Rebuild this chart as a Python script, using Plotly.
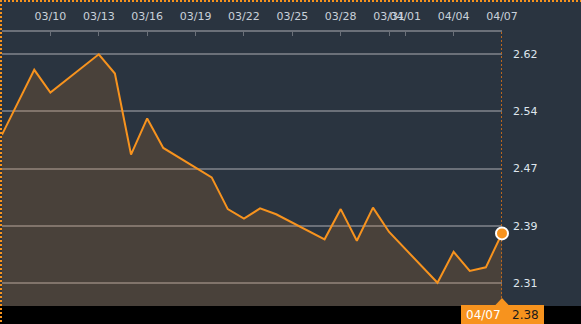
import plotly.graph_objects as go

dates = ["2023-03-07", "2023-03-09", "2023-03-10", "2023-03-13", "2023-03-14", "2023-03-15",
         "2023-03-16", "2023-03-17", "2023-03-20", "2023-03-21", "2023-03-22", "2023-03-23",
         "2023-03-24", "2023-03-27", "2023-03-28", "2023-03-29", "2023-03-30", "2023-03-31",
         "2023-04-03", "2023-04-04", "2023-04-05", "2023-04-06", "2023-04-07"]
values = [2.511, 2.599, 2.568, 2.620, 2.594, 2.484,
          2.533, 2.493, 2.453, 2.410, 2.397, 2.411,
          2.403, 2.369, 2.410, 2.367, 2.412, 2.379,
          2.310, 2.352, 2.326, 2.331, 2.377]

x_tickvals = ["2023-03-10", "2023-03-13", "2023-03-16", "2023-03-19", "2023-03-22", "2023-03-25",
              "2023-03-28", "2023-03-31", "2023-04-01", "2023-04-04", "2023-04-07"]
x_ticktext = ["03/10", "03/13", "03/16", "03/19", "03/22", "03/25",
              "03/28", "03/31", "04/01", "04/04", "04/07"]
y_tickvals = [2.31, 2.3875, 2.465, 2.5425, 2.62]
y_ticktext = ["2.31", "2.39", "2.47", "2.54", "2.62"]
y_range = [2.2785, 2.6503]
x_range = ["2023-03-07", "2023-04-07"]

last_label = "04/07"
last_value_text = "2.38"

ORANGE = "#f7931e"
BG = "#2a3440"
GRID = "#6b7079"
FONT = "DejaVu Sans"

fig = go.Figure()
fig.add_trace(go.Scatter(
    x=dates, y=values, mode="lines",
    line=dict(color=ORANGE, width=2),
    fill="tozeroy", fillcolor="rgba(255,140,30,0.15)",
    hoverinfo="skip", showlegend=False,
))
# vertical dotted cursor line at the last date
fig.add_trace(go.Scatter(
    x=[dates[-1], dates[-1]], y=y_range, mode="lines",
    line=dict(color="#b8661f", width=2, dash="2px,2px"),
    hoverinfo="skip", showlegend=False, cliponaxis=False,
))
fig.add_trace(go.Scatter(
    x=[dates[-1]], y=[values[-1]], mode="markers",
    marker=dict(size=12, color=ORANGE, line=dict(color="white", width=2)),
    hoverinfo="skip", showlegend=False, cliponaxis=False,
))

W, H = 581, 324
L, R, T, B = 2, 79, 32, 18
pw, ph = W - L - R, H - T - B

def px(xp):
    return (xp - L) / pw

def py(yp):
    return (H - B - yp) / ph

shapes = [
    # bottom black bar
    dict(type="rect", xref="paper", yref="paper", x0=px(0), x1=px(W), y0=py(H), y1=py(H - B),
         fillcolor="black", line=dict(width=0), layer="above"),
    # label box
    dict(type="rect", xref="paper", yref="paper", x0=px(461), x1=px(544), y0=py(H), y1=py(305),
         fillcolor=ORANGE, line=dict(width=0), layer="above"),
    dict(type="path", xref="paper", yref="paper",
         path=f"M {px(495)} {py(305.5)} L {px(509)} {py(305.5)} L {px(502)} {py(298)} Z",
         fillcolor=ORANGE, line=dict(width=0), layer="above"),
    # outer dotted focus border (top and left)
    dict(type="line", xref="paper", yref="paper", x0=px(0), x1=px(W), y0=py(1), y1=py(1),
         line=dict(color=ORANGE, width=2, dash="2px,2px"), layer="above"),
    dict(type="line", xref="paper", yref="paper", x0=px(1), x1=px(1), y0=py(0), y1=py(H),
         line=dict(color=ORANGE, width=2, dash="2px,2px"), layer="above"),
]

annotations = [
    dict(xref="paper", yref="paper", x=px(483), y=py(314.5), text=last_label, showarrow=False,
         font=dict(family=FONT, size=12, color="white"), xanchor="center", yanchor="middle"),
    dict(xref="paper", yref="paper", x=px(525), y=py(314.5), text=last_value_text, showarrow=False,
         font=dict(family=FONT, size=12, color="#1a1a1a"), xanchor="center", yanchor="middle"),
]

fig.update_layout(
    width=W, height=H,
    margin=dict(l=L, r=R, t=T, b=B, pad=0),
    paper_bgcolor=BG, plot_bgcolor=BG,
    font=dict(family=FONT, size=11, color="#c9d1da"),
    shapes=shapes, annotations=annotations,
    xaxis=dict(
        type="date", side="top", range=x_range,
        tickmode="array", tickvals=x_tickvals, ticktext=x_ticktext, tickangle=0,
        ticks="inside", ticklen=4, tickcolor=GRID, tickwidth=1,
        showline=True, linecolor=GRID, linewidth=2,
        showgrid=False, zeroline=False, fixedrange=True,
        tickfont=dict(family=FONT, size=11, color="#c9d1da"),
        ticklabelstandoff=6,
    ),
    yaxis=dict(
        side="right", range=y_range,
        tickmode="array", tickvals=y_tickvals, ticktext=y_ticktext,
        ticks="", showgrid=True, gridcolor=GRID, gridwidth=1.5,
        showline=False, zeroline=False, fixedrange=True,
        tickfont=dict(family=FONT, size=11, color="#dfe6ee"),
        ticklabelstandoff=10,
    ),
)

fig.write_html("out.html")
